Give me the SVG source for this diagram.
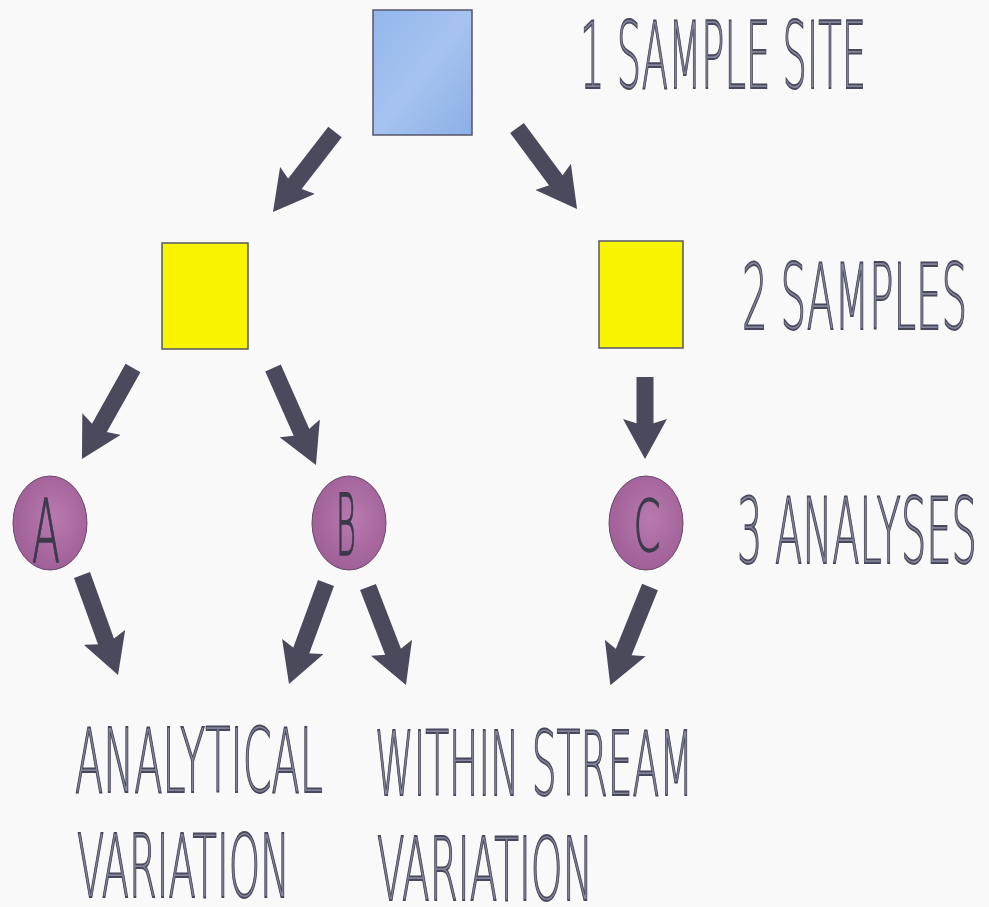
<svg xmlns="http://www.w3.org/2000/svg" width="989" height="907" viewBox="0 0 989 907">
<defs>
<style>
.lbl{font-family:"DejaVu Sans ExtraLight","DejaVu Sans",sans-serif;font-weight:200;fill:#84849a;stroke:#48485c;stroke-width:1.4;vector-effect:non-scaling-stroke}
.let{font-family:"DejaVu Sans ExtraLight","DejaVu Sans",sans-serif;font-weight:200;fill:#3a3a4c;stroke:#3a3a4c;stroke-width:1;vector-effect:non-scaling-stroke;text-anchor:middle}
.arr{stroke:#4b4a5d;stroke-width:17;fill:none;marker-end:url(#head)}
.sq{stroke:#55556a;stroke-width:1.5}
.circ{fill:url(#purp);stroke:#6a4a6a;stroke-width:1}
</style>
<linearGradient id="blue" x1="0" y1="0" x2="1" y2="1">
<stop offset="0" stop-color="#93b6ec"/><stop offset="0.5" stop-color="#a6c3f0"/><stop offset="1" stop-color="#8cafe6"/>
</linearGradient>
<radialGradient id="purp" cx="0.55" cy="0.45" r="0.6">
<stop offset="0" stop-color="#b87aae"/><stop offset="1" stop-color="#9e5e96"/>
</radialGradient>
<marker id="head" markerUnits="userSpaceOnUse" markerWidth="40" markerHeight="44" viewBox="0 0 40 44" refX="8" refY="22" orient="auto">
<path d="M0,0 L40,22 L0,44 L7,22 z" fill="#4b4a5d"/>
</marker>
</defs>
<rect width="989" height="907" fill="#f9f9f9"/>
<g id="connectors">
<line class="arr" x1="335" y1="132" x2="292.6" y2="186.7"/>
<line class="arr" x1="517" y1="128" x2="558" y2="183.3"/>
<line class="arr" x1="133" y1="368" x2="97.6" y2="431.1"/>
<line class="arr" x1="273" y1="368" x2="303" y2="435.7"/>
<line class="arr" x1="645" y1="377" x2="645" y2="427"/>
<line class="arr" x1="82" y1="575" x2="107.2" y2="644.9"/>
<line class="arr" x1="326" y1="583" x2="300" y2="654"/>
<line class="arr" x1="368" y1="587" x2="394.4" y2="655.2"/>
<line class="arr" x1="650" y1="587" x2="622.3" y2="655.5"/>
</g>
<g id="site">
<rect class="sq" x="373" y="10" width="99" height="125" fill="url(#blue)"/>
</g>
<g id="sample1">
<rect class="sq" x="162" y="243" width="86" height="106" fill="#f8f400"/>
</g>
<g id="sample2">
<rect class="sq" x="599" y="241" width="84" height="107" fill="#f8f400"/>
</g>
<g id="analysisA">
<ellipse class="circ" cx="50" cy="523" rx="37" ry="47"/>
<text class="let" transform="translate(46,562) scale(0.5,1)" x="0" y="0" font-size="88" textLength="56" lengthAdjust="spacingAndGlyphs">A</text>
</g>
<g id="analysisB">
<ellipse class="circ" cx="349" cy="523" rx="37" ry="47"/>
<text class="let" transform="translate(346,555) scale(0.5,1)" x="0" y="0" font-size="85" textLength="40" lengthAdjust="spacingAndGlyphs">B</text>
</g>
<g id="analysisC">
<ellipse class="circ" cx="646" cy="523" rx="37" ry="47"/>
<text class="let" transform="translate(647,551) scale(0.5,1)" x="0" y="0" font-size="72" textLength="54" lengthAdjust="spacingAndGlyphs">C</text>
</g>
<g id="labels">
<text class="lbl" transform="translate(580,88) scale(0.42,1)" x="0" y="0" font-size="92" textLength="681" lengthAdjust="spacingAndGlyphs">1 SAMPLE SITE</text>
<text class="lbl" transform="translate(742,329) scale(0.42,1)" x="0" y="0" font-size="91" textLength="536" lengthAdjust="spacingAndGlyphs">2 SAMPLES</text>
<text class="lbl" transform="translate(737,563) scale(0.42,1)" x="0" y="0" font-size="90" textLength="571" lengthAdjust="spacingAndGlyphs">3 ANALYSES</text>
<text class="lbl" transform="translate(75,792) scale(0.42,1)" x="0" y="0" font-size="89" textLength="590" lengthAdjust="spacingAndGlyphs">ANALYTICAL</text>
<text class="lbl" transform="translate(77,897) scale(0.42,1)" x="0" y="0" font-size="88" textLength="507" lengthAdjust="spacingAndGlyphs">VARIATION</text>
<text class="lbl" transform="translate(375,795) scale(0.42,1)" x="0" y="0" font-size="89" textLength="757" lengthAdjust="spacingAndGlyphs">WITHIN STREAM</text>
<text class="lbl" transform="translate(377,900) scale(0.42,1)" x="0" y="0" font-size="88" textLength="514" lengthAdjust="spacingAndGlyphs">VARIATION</text>
</g>
</svg>
